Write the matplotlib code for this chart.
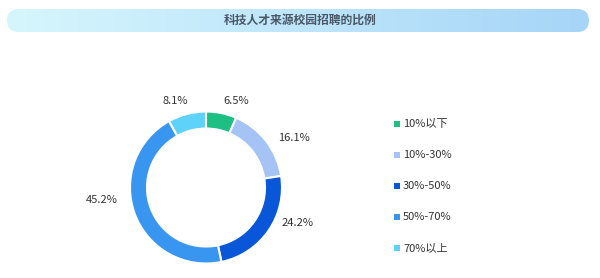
import numpy as np
import matplotlib
matplotlib.use("Agg")
import matplotlib.pyplot as plt
from matplotlib.patches import FancyBboxPatch

plt.rcParams['font.family'] = ['Noto Sans CJK SC', 'DejaVu Sans']

title = "科技人才来源校园招聘的比例"
categories = ["10%以下", "10%-30%", "30%-50%", "50%-70%", "70%以上"]
shares = [6.5, 16.1, 24.2, 45.2, 8.1]
colors = ["#1dbf84", "#a6c3f5", "#0a56d8", "#3896f0", "#5ed2f8"]

W, H = 600, 278
fig = plt.figure(figsize=(W / 100, H / 100), dpi=100)
ax = fig.add_axes([0, 0, 1, 1])

# title bar with horizontal gradient
bar = FancyBboxPatch((7, H - 32), 582, 23, boxstyle="round,pad=0,rounding_size=11.5",
                     linewidth=0, facecolor='none')
ax.add_patch(bar)
c1 = np.array(matplotlib.colors.to_rgb("#d6f6fd"))
c2 = np.array(matplotlib.colors.to_rgb("#a6d5f8"))
t = np.linspace(0, 1, 256)
grad = (c1[None, :] * (1 - t[:, None]) + c2[None, :] * t[:, None])[None, :, :]
im = ax.imshow(grad, extent=(7, 589, H - 32, H - 9), aspect='auto', zorder=1)
im.set_clip_path(bar)
ax.text(300, H - 20.5, title, ha='center', va='center', fontsize=8.5,
        fontweight='bold', color='#4a5866', zorder=2)

# donut
cx, cy = 206, H - 187.5
labels = [f"{v}%" for v in shares]
wedges, texts = ax.pie(shares, colors=colors, startangle=90, counterclock=False,
                       radius=76, center=(cx, cy), labels=labels,
                       labeldistance=1.16, frame=True,
                       wedgeprops=dict(width=17, edgecolor='white', linewidth=1.5),
                       textprops=dict(fontsize=8, color='#333333'))

# small label nudges (label layout avoids the ring like the original)
nudges = [(0, 0), (2, -4), (3, 15), (-6, 18), (4, 1.5)]
for txt, (dx, dy) in zip(texts, nudges):
    x, y = txt.get_position()
    txt.set_horizontalalignment('left' if x >= cx else 'right')
    txt.set_verticalalignment('center')
    txt.set_position((x + dx, y + dy))

ax.set_xlim(0, W)
ax.set_ylim(0, H)
ax.set_aspect('equal')
ax.axis('off')

# legend
for i, (cat, col) in enumerate(zip(categories, colors)):
    y = H - 124 - i * 31
    ax.scatter([397], [y], marker='s', s=14, color=col, linewidths=0)
    ax.text(403, y, cat, ha='left', va='center', fontsize=8, color='#333333')

fig.savefig("out.png", dpi=100)
